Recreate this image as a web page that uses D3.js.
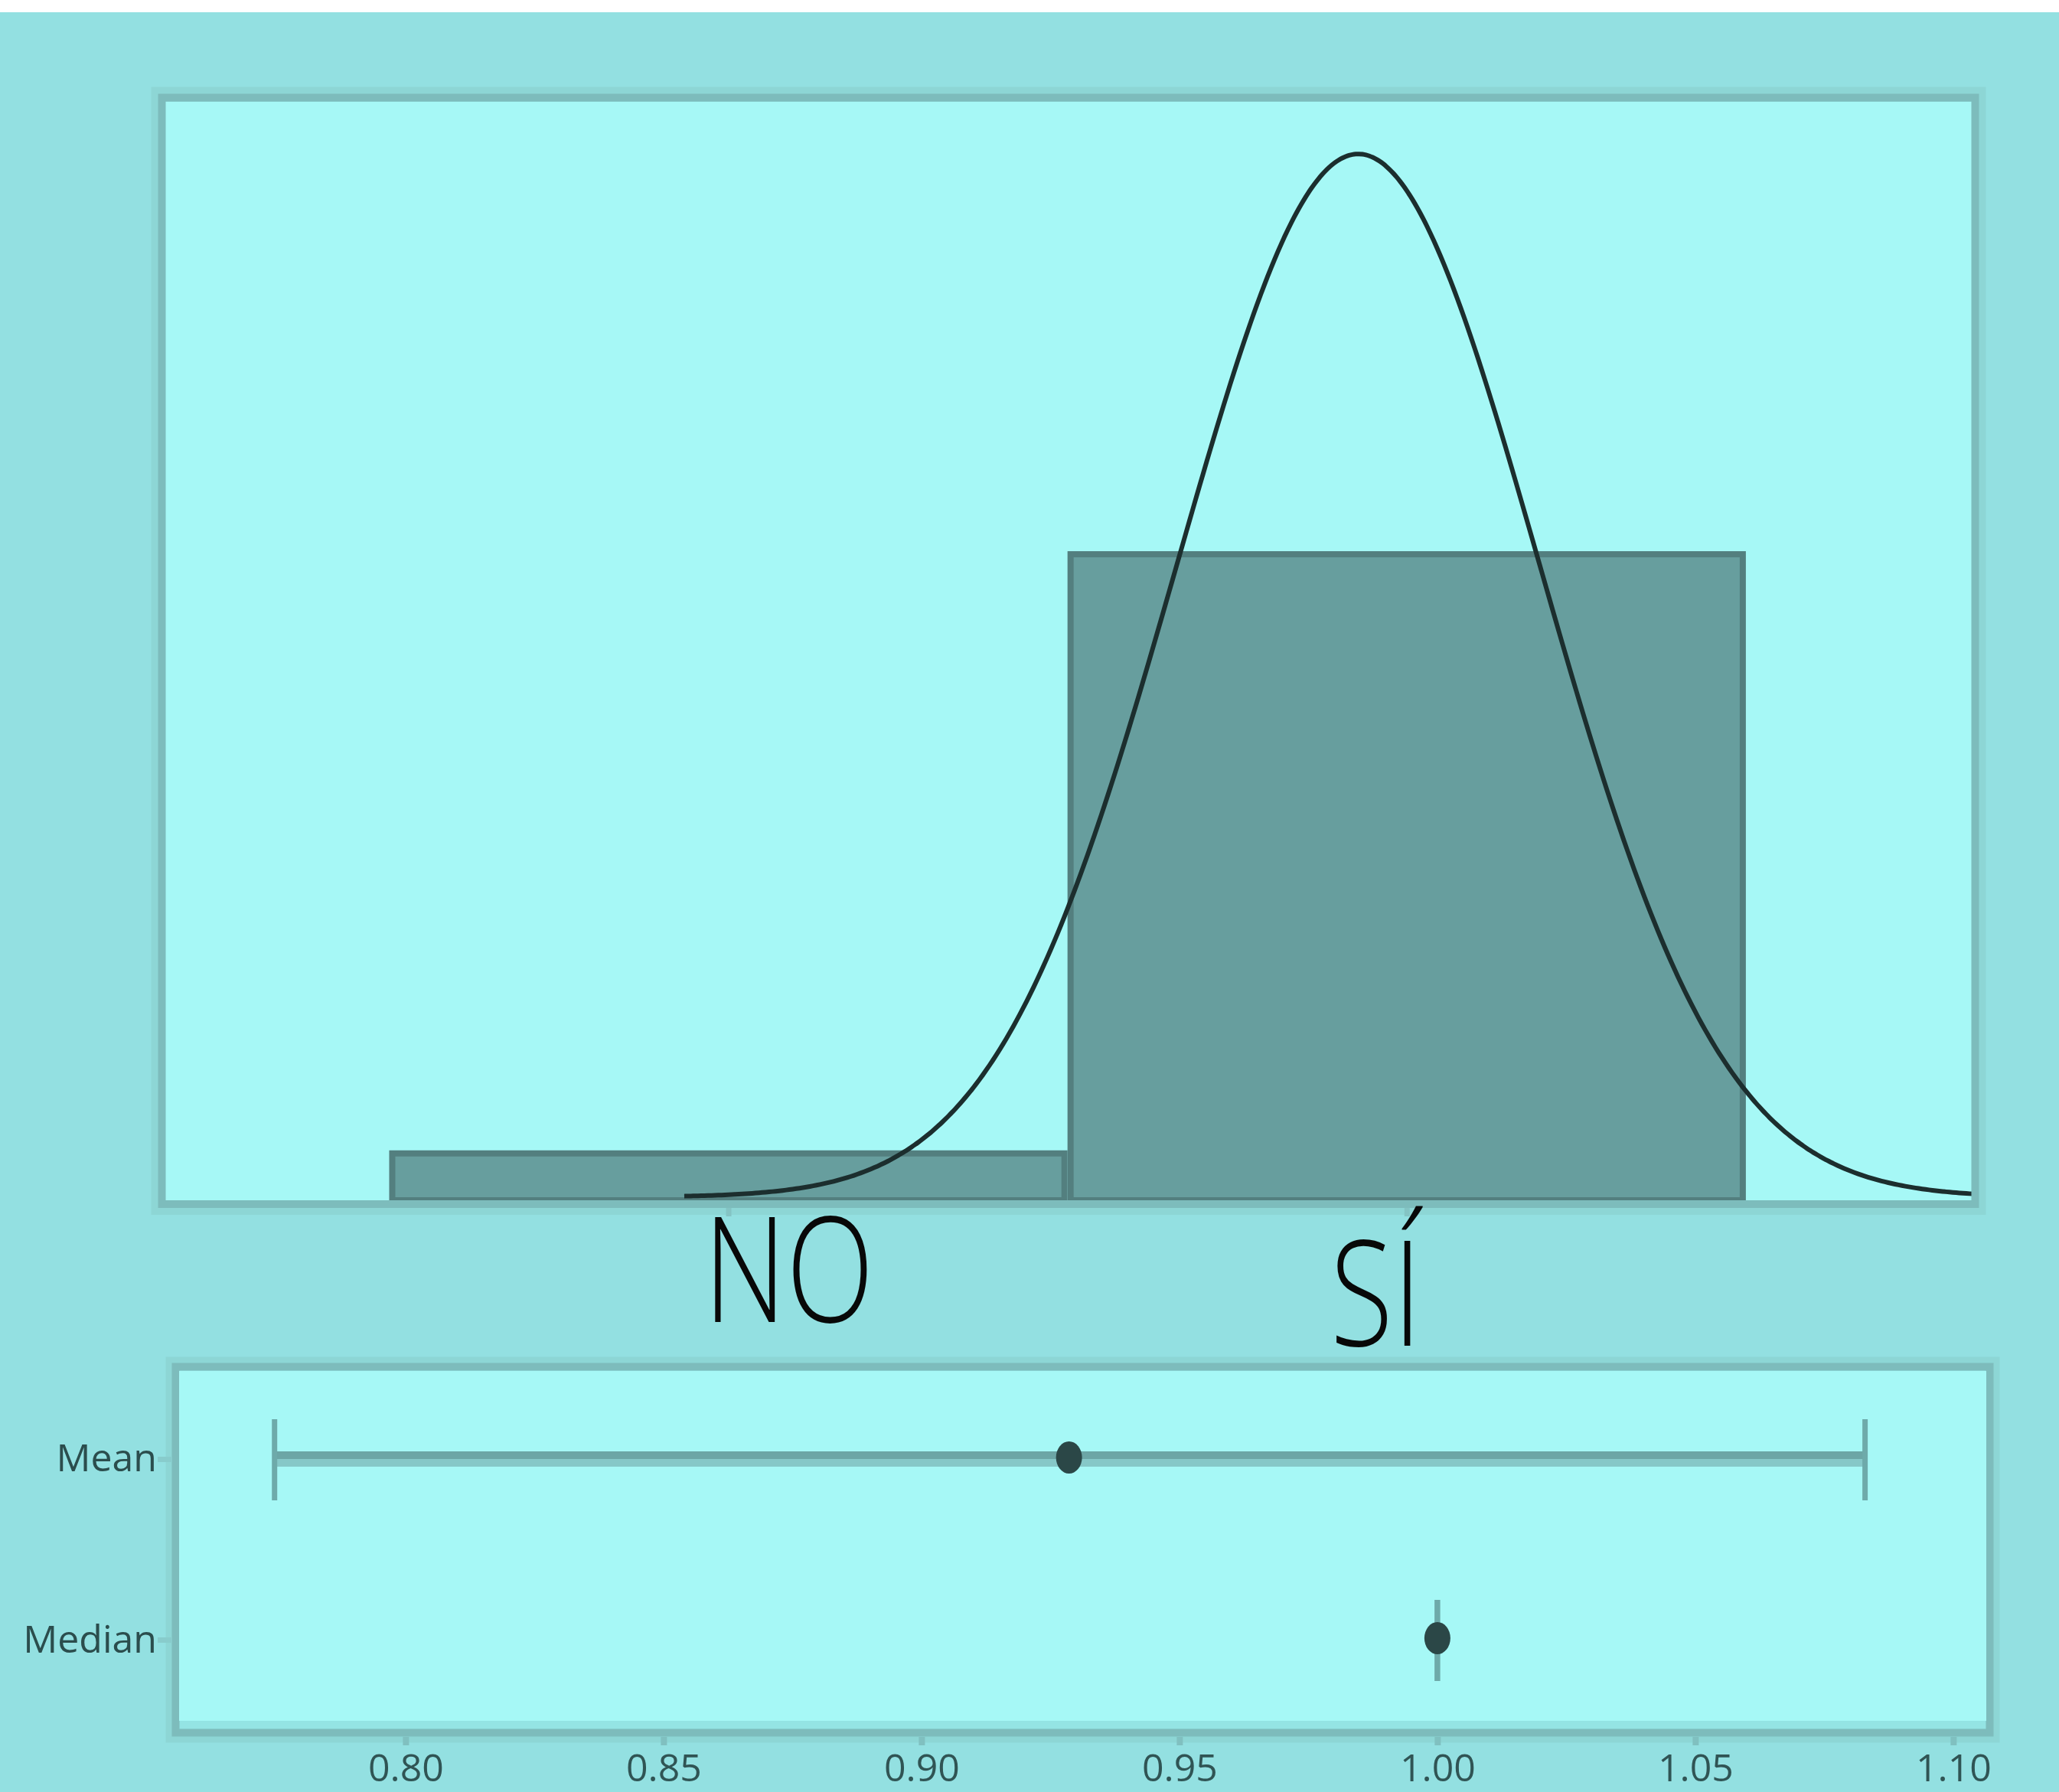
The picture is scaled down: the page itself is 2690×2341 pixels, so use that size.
<!DOCTYPE html>
<html>
<head>
<meta charset="utf-8">
<script src="https://cdn.jsdelivr.net/npm/d3@7"></script>
<style>
  body { margin: 0; background: #93e0e1; }
  svg { display: block; }
  text { font-family: 'Open Sans', 'DejaVu Sans', sans-serif; }
</style>
</head>
<body>
<svg id="chart"></svg>
<script>
// Histogram data (0 = NO, 1 = SÍ)
const categories = ['NO', 'SÍ']
const categoryValues = [0, 1]
const counts = [1, 13]

// Normal fit shown over the histogram
const fitMean = 0.9286
const fitSd = 0.2673
const sampleSize = 14
const binWidth = 1
const curveStart = -0.065

// Confidence intervals panel
const rows = ['Mean', 'Median']
const estimates = [0.9286, 1.0]
const ciLower = [0.7746, 1.0]
const ciUpper = [1.0829, 1.0]
const xTicks = [0.80, 0.85, 0.90, 0.95, 1.00, 1.05, 1.10]

// Layout
const width = 2690
const height = 2341
const topBox = { left: 216, right: 2576, top: 133, bottom: 1568 }
const botBox = { left: 234, right: 2595, top: 1791, bottom: 2248, axis: 2263.5 }

const frameColor = '#7dbcbc'
const haloColor = '#8dd6d5'
const panelFill = '#a6f8f6'

const svg = d3.select('#chart')
  .attr('width', width)
  .attr('height', height)

// white strip at the very top
svg.append('rect')
  .attr('x', 0).attr('y', 0)
  .attr('width', width).attr('height', 16)
  .attr('fill', '#ffffff')

// ---------- Top panel: histogram + fit ----------
const xTop = d3.scaleLinear()
  .domain([-0.83, 1.833])
  .range([topBox.left, topBox.right])

const yTop = d3.scaleLinear()
  .domain([0, 22])
  .range([topBox.bottom, topBox.top])

const topG = svg.append('g')

topG.append('rect')
  .attr('x', topBox.left - 4.5).attr('y', topBox.top - 5.5)
  .attr('width', topBox.right - topBox.left + 9).attr('height', topBox.bottom - topBox.top + 10.5)
  .attr('fill', 'none')
  .attr('stroke', haloColor)
  .attr('stroke-width', 28)

topG.append('rect')
  .attr('x', topBox.left).attr('y', topBox.top)
  .attr('width', topBox.right - topBox.left).attr('height', topBox.bottom - topBox.top)
  .attr('fill', panelFill)

// bars
const bars = categoryValues.map((v, i) => ({ v, count: counts[i] }))
const sw = 8
topG.selectAll('.bar')
  .data(bars)
  .enter()
  .append('rect')
  .attr('class', 'bar')
  .attr('x', d => xTop(d.v - binWidth / 2) + sw / 2)
  .attr('y', d => yTop(d.count) + sw / 2)
  .attr('width', d => xTop(d.v + binWidth / 2) - xTop(d.v - binWidth / 2) - sw)
  .attr('height', d => yTop(0) - yTop(d.count) - sw / 2)
  .attr('fill', '#679e9e')
  .attr('stroke', '#537f7f')
  .attr('stroke-width', sw)

// normal fit curve
svg.append('clipPath').attr('id', 'topClip')
  .append('rect')
  .attr('x', topBox.left).attr('y', topBox.top - 10)
  .attr('width', topBox.right - topBox.left + 9).attr('height', topBox.bottom - topBox.top + 20)

const density = x => sampleSize * binWidth *
  Math.exp(-0.5 * Math.pow((x - fitMean) / fitSd, 2)) / (fitSd * Math.sqrt(2 * Math.PI))

const curveXs = d3.range(curveStart, xTop.domain()[1] + 0.01, 0.005)
const line = d3.line()
  .x(d => xTop(d))
  .y(d => yTop(density(d)) - 4)
  .curve(d3.curveBasis)

topG.append('path')
  .datum(curveXs)
  .attr('clip-path', 'url(#topClip)')
  .attr('d', line)
  .attr('fill', 'none')
  .attr('stroke', '#1c2e2e')
  .attr('stroke-width', 6)

// frame
topG.append('rect')
  .attr('x', topBox.left - 4.5).attr('y', topBox.top - 5.5)
  .attr('width', topBox.right - topBox.left + 9).attr('height', topBox.bottom - topBox.top + 10.5)
  .attr('fill', 'none')
  .attr('stroke', frameColor)
  .attr('stroke-width', 10)

// ticks at 0 and 1 with hand-placed labels
const topAxis = d3.axisBottom(xTop)
  .tickValues(categoryValues)
  .tickSize(11)
  .tickFormat('')
topG.append('g')
  .attr('transform', `translate(0, ${topBox.bottom + 10})`)
  .call(topAxis)
  .call(g => g.select('.domain').remove())
  .call(g => g.selectAll('.tick line').attr('stroke', '#84c4c4').attr('stroke-width', 7))

const labelOffsets = [79, -40]
const labelBaselines = [1727, 1758]
topG.selectAll('.cat-label')
  .data(categories)
  .enter()
  .append('text')
  .attr('class', 'cat-label')
  .attr('transform', (d, i) => `translate(${xTop(categoryValues[i]) + labelOffsets[i]}, ${labelBaselines[i]}) scale(0.78, 1)`)
  .attr('text-anchor', 'middle')
  .style('font-size', '192px')
  .style('font-weight', 300)
  .attr('fill', '#080808')
  .text(d => d)

// ---------- Bottom panel: confidence intervals ----------
const xBot = d3.scaleLinear()
  .domain([0.7561, 1.1064])
  .range([botBox.left, botBox.right])

const yBot = d3.scalePoint()
  .domain(rows)
  .range([botBox.top + 5, botBox.bottom + 4])
  .padding(0.466)

const botG = svg.append('g')

botG.append('rect')
  .attr('x', botBox.left - 4.5).attr('y', botBox.top - 5.5)
  .attr('width', botBox.right - botBox.left + 9).attr('height', botBox.axis - botBox.top + 5.5)
  .attr('fill', 'none')
  .attr('stroke', haloColor)
  .attr('stroke-width', 26)

botG.append('rect')
  .attr('x', botBox.left - 4.5).attr('y', botBox.top - 5.5)
  .attr('width', botBox.right - botBox.left + 9).attr('height', botBox.axis - botBox.top + 5.5)
  .attr('fill', '#94e4e4')
  .attr('stroke', frameColor)
  .attr('stroke-width', 10)

botG.append('rect')
  .attr('x', botBox.left).attr('y', botBox.top)
  .attr('width', botBox.right - botBox.left).attr('height', botBox.bottom - botBox.top)
  .attr('fill', panelFill)

const intervals = rows.map((r, i) => ({ r, est: estimates[i], lo: ciLower[i], hi: ciUpper[i] }))

const rowG = botG.selectAll('.interval')
  .data(intervals)
  .enter()
  .append('g')
  .attr('class', 'interval')

rowG.append('line')
  .attr('x1', d => xBot(d.lo)).attr('x2', d => xBot(d.hi))
  .attr('y1', d => yBot(d.r)).attr('y2', d => yBot(d.r))
  .attr('stroke', '#86c8c8')
  .attr('stroke-width', 20)

rowG.append('line')
  .attr('x1', d => xBot(d.lo)).attr('x2', d => xBot(d.hi))
  .attr('y1', d => yBot(d.r) - 5).attr('y2', d => yBot(d.r) - 5)
  .attr('stroke', '#6ca6a6')
  .attr('stroke-width', 10)

rowG.selectAll('.cap')
  .data(d => [d.lo, d.hi].map(v => ({ v, r: d.r })))
  .enter()
  .append('line')
  .attr('class', 'cap')
  .attr('x1', d => xBot(d.v)).attr('x2', d => xBot(d.v))
  .attr('y1', d => yBot(d.r) - 52).attr('y2', d => yBot(d.r) + 54)
  .attr('stroke', '#6eaaaa')
  .attr('stroke-width', 7)

rowG.append('ellipse')
  .attr('cx', d => xBot(d.est))
  .attr('cy', d => yBot(d.r) - 2)
  .attr('rx', 17).attr('ry', 21)
  .attr('fill', '#2b4747')

// x axis (labels kept just inside the bottom edge)
const xAxis = d3.axisBottom(xBot)
  .tickValues(xTicks)
  .tickFormat(d3.format('.2f'))
  .tickSize(11)
  .tickPadding(11)

botG.append('g')
  .attr('transform', `translate(0, ${botBox.axis + 5.5})`)
  .call(xAxis)
  .call(g => g.select('.domain').remove())
  .call(g => g.selectAll('.tick line').attr('stroke', '#80c0c0').attr('stroke-width', 8))
  .call(g => g.selectAll('.tick text')
    .style('font-size', '50px')
    .attr('fill', '#305454'))

// y axis
const yAxis = d3.axisLeft(yBot)
  .tickSize(19)
  .tickPadding(1)

botG.append('g')
  .attr('transform', `translate(${botBox.left - 9}, 0)`)
  .call(yAxis)
  .call(g => g.select('.domain').remove())
  .call(g => g.selectAll('.tick line').attr('stroke', '#88cccc').attr('stroke-width', 7))
  .call(g => g.selectAll('.tick text')
    .style('font-size', '50px')
    .attr('fill', '#2b4d4d'))
</script>
</body>
</html>
